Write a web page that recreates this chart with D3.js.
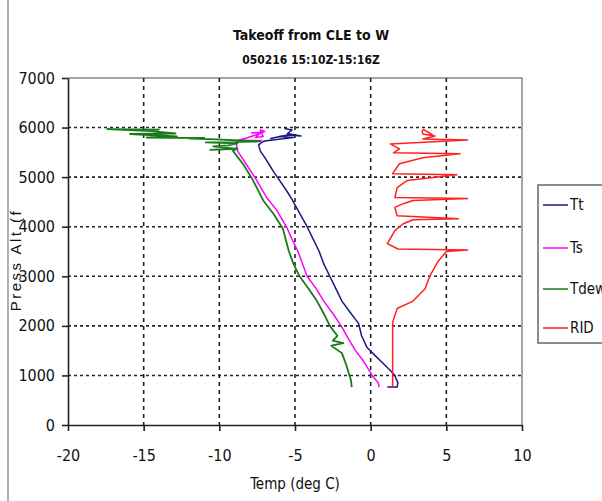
<!DOCTYPE html>
<html>
<head>
<meta charset="utf-8">
<script src="https://cdn.jsdelivr.net/npm/d3@7"></script>
<style>
  body { margin: 0; background: #fff; }
  text { font-family: "Liberation Sans Narrow", "DejaVu Sans Condensed", "Roboto Condensed", sans-serif; font-stretch: condensed; fill: #111; }
</style>
</head>
<body>
<div id="chart"></div>
<script>
// chart values: [temp degC, press alt ft]
var xTicks = [-20, -15, -10, -5, 0, 5, 10];
var yTicks = [0, 1000, 2000, 3000, 4000, 5000, 6000, 7000];
var seriesNames = ["Tt", "Ts", "Tdew", "RID"];
var seriesColors = ["#1a1a80", "#ff00ff", "#1a7a1a", "#ff2020"];

var tt = [[1.1, 765], [1.75, 765], [1.8, 850], [1.6, 1000], [1.3, 1100], [0.8, 1250], [0.3, 1400],
  [-0.25, 1570], [-0.6, 1800], [-0.8, 2050], [-1.3, 2250], [-1.9, 2500], [-2.3, 2750], [-2.7, 3000],
  [-3.1, 3250], [-3.4, 3500], [-3.8, 3750], [-4.2, 4000], [-4.8, 4330], [-5.2, 4550], [-5.5, 4700],
  [-6.1, 4970], [-6.4, 5100], [-6.7, 5250], [-7.0, 5400], [-7.3, 5530], [-7.4, 5650], [-7.2, 5700],
  [-7.0, 5730], [-6.2, 5760], [-5.1, 5800], [-6.0, 5820], [-6.6, 5780], [-5.5, 5850], [-4.6, 5830],
  [-5.5, 5880], [-5.2, 5950], [-5.7, 5980]];

var ts = [[0.55, 765], [0.5, 850], [0.1, 1000], [-0.5, 1300], [-1.0, 1500], [-1.4, 1700], [-1.95, 2000],
  [-2.5, 2250], [-3.1, 2500], [-3.6, 2750], [-4.2, 3000], [-4.5, 3250], [-4.8, 3500], [-5.2, 3750],
  [-5.5, 3960], [-6.2, 4330], [-6.9, 4600], [-7.6, 4970], [-8.2, 5250], [-8.8, 5530], [-8.9, 5700],
  [-8.5, 5740], [-7.2, 5740], [-8.8, 5740], [-8.2, 5790], [-7.4, 5870], [-7.0, 5920], [-7.3, 5950],
  [-7.1, 5820], [-7.6, 5800], [-7.3, 5900], [-7.9, 5890]];

var tdew = [[-1.25, 765], [-1.3, 900], [-1.4, 1000], [-1.6, 1200], [-1.9, 1450], [-2.6, 1600],
  [-1.8, 1650], [-2.5, 1700], [-2.2, 1800], [-2.7, 2000], [-3.1, 2250], [-3.55, 2500], [-4.1, 2750],
  [-4.7, 3000], [-5.1, 3250], [-5.4, 3500], [-5.8, 3960], [-6.4, 4250], [-7.1, 4530], [-7.8, 4950],
  [-8.4, 5250], [-9.1, 5530], [-8.8, 5580], [-10.6, 5550], [-8.8, 5570], [-10.4, 5620], [-9.4, 5640],
  [-8.8, 5680], [-10.9, 5700], [-7.3, 5720], [-10.2, 5760], [-12.0, 5780], [-11.0, 5790],
  [-14.8, 5800], [-12.8, 5820], [-15.9, 5870], [-12.9, 5880], [-14.5, 5930], [-17.4, 5970],
  [-14.0, 5960], [-16.0, 5950]];

var rid = [[1.45, 765], [1.45, 1500], [1.45, 2070], [1.75, 2350], [2.8, 2500], [3.6, 2750], [3.9, 3000],
  [4.45, 3300], [5.0, 3500], [6.4, 3530], [1.8, 3550], [1.1, 3660], [1.6, 3920], [2.15, 4060],
  [2.8, 4140], [5.8, 4160], [1.75, 4220], [1.6, 4390], [2.2, 4470], [2.8, 4530], [6.4, 4570],
  [1.6, 4590], [1.75, 4790], [2.4, 4930], [5.7, 5050], [1.45, 5070], [1.9, 5270], [3.45, 5390],
  [5.9, 5470], [1.5, 5490], [1.9, 5570], [1.3, 5670], [6.4, 5750], [3.45, 5770], [4.25, 5830],
  [3.45, 5870], [3.4, 5930], [3.5, 5960], [4.1, 5850]];

var allSeries = [tt, ts, tdew, rid];

var svgWidth = 602;
var svgHeight = 501;

var margin = { top: 78, right: 80, bottom: 76, left: 68 };
var width = svgWidth - margin.left - margin.right;
var height = svgHeight - margin.top - margin.bottom;

var svg = d3.select("#chart")
  .append("svg")
  .attr("width", svgWidth)
  .attr("height", svgHeight);

// outer frame edge
svg.append("line")
  .attr("x1", 8).attr("x2", 8).attr("y1", 0).attr("y2", svgHeight)
  .attr("stroke", "#999").attr("stroke-width", 1.5);

var chartGroup = svg.append("g")
  .attr("transform", `translate(${margin.left}, ${margin.top})`);

var xScale = d3.scaleLinear().domain([-20, 10]).range([0, width]);
var yScale = d3.scaleLinear().domain([0, 7000]).range([height, 0]);

// plot border (top / right)
chartGroup.append("path")
  .attr("d", `M0,0H${width}V${height}`)
  .attr("fill", "none")
  .attr("stroke", "#888")
  .attr("stroke-width", 1.5);

// gridlines
chartGroup.selectAll(".vgrid")
  .data(xTicks.slice(1, -1))
  .enter().append("line")
  .attr("x1", d => xScale(d)).attr("x2", d => xScale(d))
  .attr("y1", 0).attr("y2", height)
  .attr("stroke", "#222").attr("stroke-width", 1.6)
  .attr("stroke-dasharray", "4,4");

chartGroup.selectAll(".hgrid")
  .data(yTicks.slice(1, -1))
  .enter().append("line")
  .attr("x1", 0).attr("x2", width)
  .attr("y1", d => yScale(d)).attr("y2", d => yScale(d))
  .attr("stroke", "#222").attr("stroke-width", 1.6)
  .attr("stroke-dasharray", "3,3");

// axes
var bottomAxis = d3.axisBottom(xScale).tickValues(xTicks).tickFormat(d => String(d))
  .tickSize(6).tickSizeOuter(0).tickPadding(19);
var leftAxis = d3.axisLeft(yScale).tickValues(yTicks).tickFormat(d => String(d))
  .tickSize(6).tickSizeOuter(0).tickPadding(7);

var xAxisG = chartGroup.append("g")
  .attr("transform", `translate(0, ${height})`)
  .call(bottomAxis);

var yAxisG = chartGroup.append("g")
  .call(leftAxis);

[xAxisG, yAxisG].forEach(function(g) {
  g.select(".domain").attr("stroke", "#222").attr("stroke-width", 1.6);
  g.selectAll(".tick line").attr("stroke", "#222").attr("stroke-width", 1.6);
  g.selectAll(".tick text")
    .style("font-family", "Liberation Sans Narrow, DejaVu Sans Condensed, sans-serif")
    .style("font-stretch", "condensed")
    .style("font-size", "16px")
    .attr("fill", "#111");
});

// series lines
var line = d3.line()
  .x(d => xScale(d[0]))
  .y(d => yScale(d[1]));

allSeries.forEach(function(data, i) {
  chartGroup.append("path")
    .datum(data)
    .attr("d", line)
    .attr("fill", "none")
    .attr("stroke", seriesColors[i])
    .attr("stroke-width", i == 2 ? 1.8 : 1.5)
    .attr("stroke-linejoin", "round");
});

// titles
svg.append("text")
  .attr("x", 311).attr("y", 40)
  .attr("text-anchor", "middle")
  .style("font-size", "14px")
  .style("font-weight", "bold")
  .text("Takeoff from CLE to W");

svg.append("text")
  .attr("x", 311).attr("y", 64)
  .attr("text-anchor", "middle")
  .style("font-size", "12px")
  .style("font-weight", "bold")
  .text("050216 15:10Z-15:16Z");

svg.append("text")
  .attr("x", 295).attr("y", 489)
  .attr("text-anchor", "middle")
  .style("font-size", "15px")
  .text("Temp (deg C)");

svg.append("text")
  .attr("transform", "translate(21, 260) rotate(-90)")
  .attr("text-anchor", "middle")
  .style("font-family", "Liberation Sans, Arial, sans-serif")
  .style("font-stretch", "normal")
  .style("font-size", "15px")
  .style("letter-spacing", "2.5px")
  .attr("fill", "#333")
  .text("Press Alt (f");

// legend
var legend = svg.append("g").attr("transform", "translate(538, 185)");
legend.append("rect")
  .attr("x", 0).attr("y", 0).attr("width", 70).attr("height", 158)
  .attr("fill", "#fff").attr("stroke", "#666").attr("stroke-width", 1.5);

var legendY = [20, 63, 104, 143];
seriesNames.forEach(function(name, i) {
  legend.append("line")
    .attr("x1", 5).attr("x2", 30)
    .attr("y1", legendY[i]).attr("y2", legendY[i])
    .attr("stroke", seriesColors[i]).attr("stroke-width", 1.5);
  legend.append("text")
    .attr("x", 32).attr("y", legendY[i] + 5)
    .style("font-size", "15px")
    .text(name);
});
</script>
</body>
</html>
